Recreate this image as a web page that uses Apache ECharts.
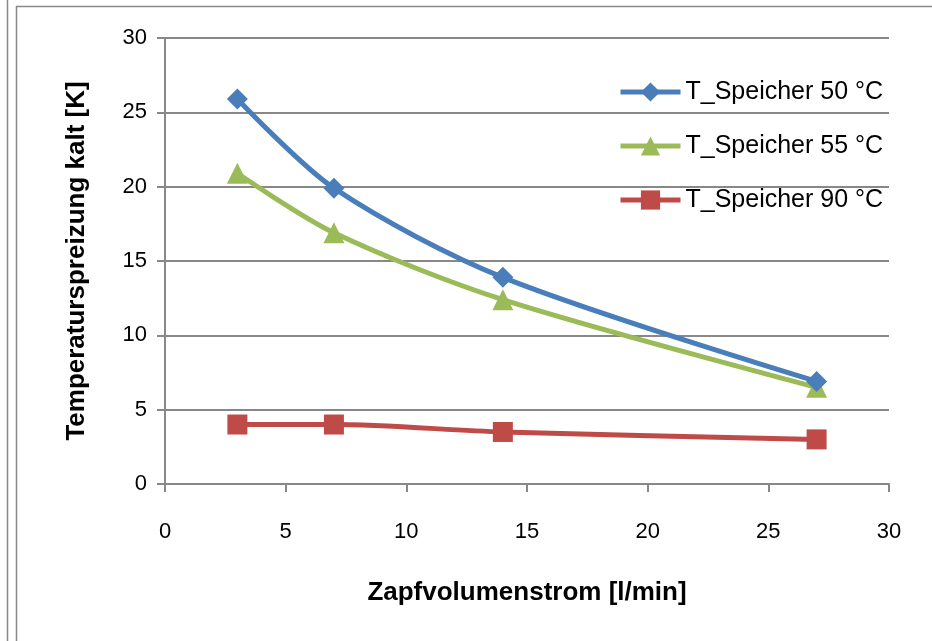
<!DOCTYPE html>
<html><head><meta charset="utf-8">
<script src="https://cdn.jsdelivr.net/npm/echarts@6/dist/echarts.min.js"></script>
<style>html,body{margin:0;padding:0;background:#fff}#c{width:932px;height:641px}</style>
</head><body><div id="c"></div>
<script>
const xValues = [3, 7, 14, 27];
const seriesNames = ['T_Speicher 50 °C', 'T_Speicher 55 °C', 'T_Speicher 90 °C'];
const s50 = [25.9, 19.9, 13.9, 6.9];
const s55 = [20.9, 16.9, 12.4, 6.5];
const s90 = [4.0, 4.0, 3.5, 3.0];
const xTicks = [0, 5, 10, 15, 20, 25, 30];
const yTicks = [0, 5, 10, 15, 20, 25, 30];

const font = '"Liberation Sans", sans-serif';
const colors = ['#4A7EBB', '#9BBB59', '#BE4B48'];
const symbols = ['diamond', 'triangle', 'rect'];
const symSizes = [21, 21, 20];
const datas = [s50, s55, s90];

const chart = echarts.init(document.getElementById('c'));
chart.setOption({
  animation: false,
  backgroundColor: '#fff',
  textStyle: { fontFamily: font },
  graphic: [
    { type: 'line', shape: { x1: 7.5, y1: 0, x2: 7.5, y2: 641 }, style: { stroke: '#888', lineWidth: 1.5 } },
    { type: 'rect', shape: { x: 16.5, y: 6.5, width: 930, height: 650 }, style: { fill: 'none', stroke: '#888', lineWidth: 1.5 } }
  ],
  grid: { left: 165, right: 43, top: 38, bottom: 157 },
  legend: {
    orient: 'vertical', left: 618, top: 79, padding: 0,
    itemWidth: 60, itemHeight: 24, itemGap: 28,
    lineStyle: { width: 5 },
    textStyle: { fontSize: 25, lineHeight: 26, fontFamily: font, color: '#000' },
    data: seriesNames
  },
  xAxis: {
    type: 'value', min: xTicks[0], max: xTicks[xTicks.length - 1], interval: 5,
    name: 'Zapfvolumenstrom [l/min]', nameLocation: 'middle', nameGap: 96,
    nameTextStyle: { fontSize: 26, fontWeight: 'bold', color: '#000', fontFamily: font },
    axisLine: { lineStyle: { color: '#888', width: 2 } },
    axisTick: { show: true, length: 8, lineStyle: { color: '#888', width: 2 } },
    axisLabel: { fontSize: 22, color: '#000', margin: 37, fontFamily: font },
    splitLine: { show: false }
  },
  yAxis: {
    type: 'value', min: yTicks[0], max: yTicks[yTicks.length - 1], interval: 5,
    name: 'Temperaturspreizung kalt [K]', nameLocation: 'middle', nameGap: 75, nameRotate: 90,
    nameTextStyle: { fontSize: 26, fontWeight: 'bold', color: '#000', fontFamily: font },
    axisLine: { show: true, lineStyle: { color: '#888', width: 2 } },
    axisTick: { show: true, length: 8, lineStyle: { color: '#888', width: 2 } },
    axisLabel: { fontSize: 22, color: '#000', margin: 18, fontFamily: font },
    splitLine: { show: true, lineStyle: { color: '#888', width: 2 } }
  },
  series: seriesNames.map((n, i) => ({
    name: n, type: 'line', smooth: 0.3,
    data: xValues.map((x, j) => [x, datas[i][j]]),
    symbol: symbols[i], symbolSize: symSizes[i],
    itemStyle: { color: colors[i] },
    lineStyle: { color: colors[i], width: 5 },
    z: 3 - i
  }))
});
</script></body></html>
